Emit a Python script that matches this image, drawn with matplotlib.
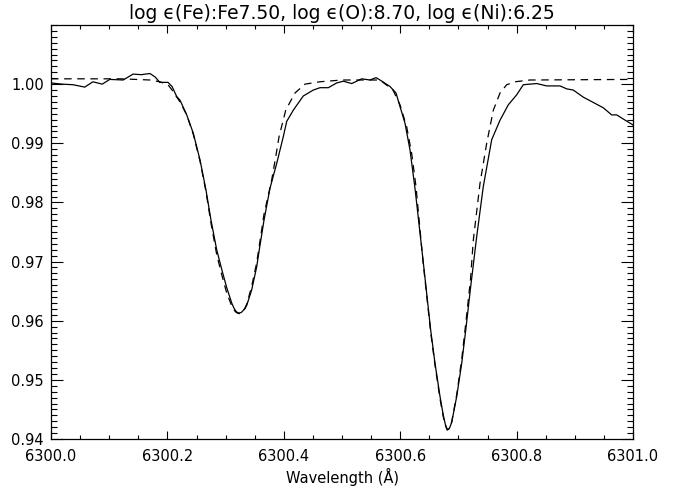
import numpy as np
import matplotlib
matplotlib.use("Agg")
import matplotlib.pyplot as plt
from matplotlib.ticker import MultipleLocator

# observed profile (solid), wavelength offset from 6300 A
obs_dw = [0.000, 0.019, 0.038, 0.058, 0.072, 0.088, 0.101, 0.124, 0.141, 0.155,
          0.170, 0.179, 0.187, 0.201, 0.208, 0.216, 0.2216, 0.2332, 0.2445, 0.2560,
          0.2663, 0.2749, 0.2847, 0.2933, 0.3019, 0.3105, 0.3140, 0.3170, 0.3200, 0.3235,
          0.3270, 0.3299, 0.3330, 0.3363, 0.3448, 0.3534, 0.3579, 0.3660, 0.3763, 0.3878,
          0.3991, 0.4050, 0.4163, 0.4335, 0.4507, 0.4622, 0.4765, 0.4909, 0.5022, 0.5167,
          0.5338, 0.5481, 0.5584, 0.5653, 0.5825, 0.5928, 0.5997, 0.6082, 0.6168, 0.6254,
          0.6392, 0.6524, 0.6598, 0.6684, 0.6741, 0.6775, 0.6809, 0.6845, 0.6885, 0.6971,
          0.7057, 0.7126, 0.7208, 0.7314, 0.7428, 0.7572, 0.7715, 0.7857, 0.8002, 0.8115,
          0.8345, 0.8517, 0.8746, 0.8861, 0.8974, 0.9146, 0.9318, 0.9490, 0.9634, 0.9720,
          0.9833, 1.0000]
obs_int = [1.0002, 1.0000, 0.9999, 0.9995, 1.0004, 1.0000, 1.0008, 1.0007, 1.0017, 1.0016,
           1.0018, 1.0012, 1.0003, 1.0003, 0.9996, 0.9979, 0.9973, 0.9948, 0.9917, 0.9872,
           0.9821, 0.9770, 0.9720, 0.9687, 0.9656, 0.9630, 0.9622, 0.9617, 0.9614, 0.9613,
           0.9614, 0.9617, 0.9620, 0.9626, 0.9652, 0.9691, 0.9720, 0.9770, 0.9824, 0.9866,
           0.9911, 0.9937, 0.9956, 0.9980, 0.9990, 0.9994, 0.9994, 1.0002, 1.0005, 1.0001,
           1.0009, 1.0007, 1.0011, 1.0007, 0.9996, 0.9985, 0.9962, 0.9934, 0.9889, 0.9824,
           0.9703, 0.9584, 0.9528, 0.9472, 0.9440, 0.9425, 0.9416, 0.9418, 0.9428, 0.9472,
           0.9528, 0.9584, 0.9655, 0.9742, 0.9827, 0.9906, 0.9939, 0.9965, 0.9982, 0.9999,
           1.0001, 0.9997, 0.9997, 0.9992, 0.9990, 0.9978, 0.9969, 0.9960, 0.9948, 0.9948,
           0.9941, 0.9931]

# synthetic profile (dashed)
syn_dw = [0.000, 0.120, 0.170, 0.187, 0.201, 0.208, 0.2216, 0.2332, 0.2445, 0.2560,
          0.2663, 0.2749, 0.2847, 0.2933, 0.3019, 0.3105, 0.3140, 0.3170, 0.3200, 0.3235,
          0.3270, 0.3299, 0.3330, 0.3363, 0.3448, 0.3534, 0.3579, 0.3660, 0.3792, 0.3866,
          0.3918, 0.4033, 0.4192, 0.4364, 0.4622, 0.5000, 0.5653, 0.5876, 0.5997, 0.6111,
          0.6197, 0.6271, 0.6392, 0.6524, 0.6598, 0.6684, 0.6741, 0.6775, 0.6809, 0.6845,
          0.6885, 0.6971, 0.7057, 0.7126, 0.7208, 0.7256, 0.7371, 0.7486, 0.7600, 0.7715,
          0.7830, 0.7973, 0.8230, 1.0000]
syn_int = [1.0009, 1.0009, 1.0007, 1.0004, 0.9999, 0.9990, 0.9970, 0.9948, 0.9915, 0.9870,
           0.9818, 0.9765, 0.9712, 0.9678, 0.9647, 0.9625, 0.9619, 0.9615, 0.9613, 0.9612,
           0.9613, 0.9616, 0.9621, 0.9628, 0.9658, 0.9698, 0.9727, 0.9780, 0.9838, 0.9880,
           0.9911, 0.9956, 0.9985, 1.0000, 1.0004, 1.0007, 1.0007, 0.9990, 0.9965, 0.9928,
           0.9883, 0.9827, 0.9700, 0.9580, 0.9525, 0.9468, 0.9437, 0.9423, 0.9415, 0.9418,
           0.9429, 0.9475, 0.9535, 0.9595, 0.9670, 0.9736, 0.9832, 0.9900, 0.9956, 0.9985,
           0.9999, 1.0004, 1.0007, 1.0008]

plt.rcParams['font.family'] = ['DejaVu Sans']

fig = plt.figure(figsize=(6.83, 4.90), dpi=100)
ax = fig.add_axes([51/683, 51/490, 582/683, 414/490])

ax.plot(6300 + np.array(obs_dw), obs_int, color='k', lw=0.9)
ax.plot(6300 + np.array(syn_dw), syn_int, color='k', lw=0.9, dashes=(6, 4.5))

ax.set_xlim(6300.0, 6301.0)
ax.set_ylim(0.94, 1.01)
ax.xaxis.set_minor_locator(MultipleLocator(0.05))
ax.yaxis.set_minor_locator(MultipleLocator(0.001))
ax.set_xticks([6300.0, 6300.2, 6300.4, 6300.6, 6300.8, 6301.0])
ax.set_xticklabels(['6300.0', '6300.2', '6300.4', '6300.6', '6300.8', '6301.0'])
ax.set_yticks([0.94, 0.95, 0.96, 0.97, 0.98, 0.99, 1.00])
ax.set_yticklabels(['0.94', '0.95', '0.96', '0.97', '0.98', '0.99', '1.00'])

ax.tick_params(axis='x', which='major', direction='in', length=6, width=0.8,
               top=True, labelsize=10.5, pad=7)
ax.tick_params(axis='x', which='minor', direction='in', length=3, width=0.8, top=True)
ax.tick_params(axis='y', which='major', direction='in', length=8.4, width=0.8,
               right=True, labelsize=10.5, pad=5)
ax.tick_params(axis='y', which='minor', direction='in', length=4.2, width=0.8, right=True)
for s in ax.spines.values():
    s.set_linewidth(0.9)

ax.set_xlabel('Wavelength (Å)', fontsize=10.5, labelpad=3)
ax.set_title('log ϵ(Fe):Fe7.50, log ϵ(O):8.70, log ϵ(Ni):6.25', fontsize=13.5, pad=4)

fig.savefig('out.png', dpi=100)
